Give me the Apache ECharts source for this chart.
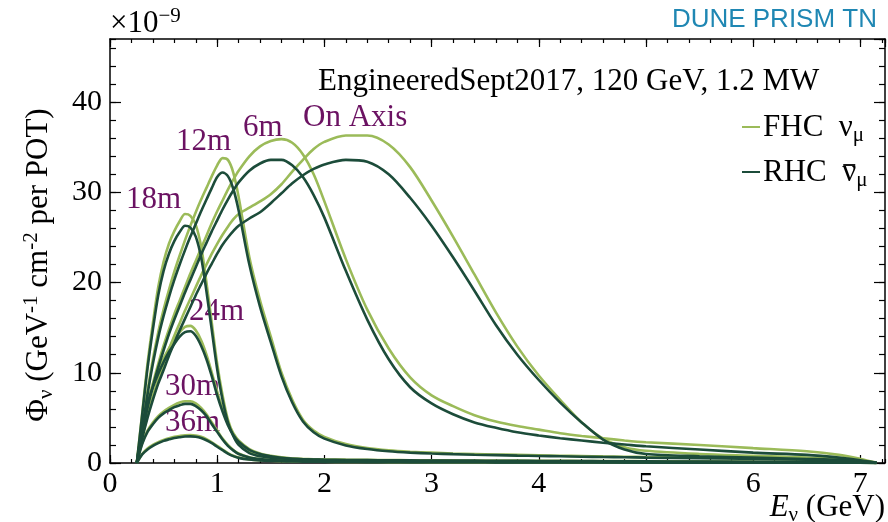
<!DOCTYPE html>
<html><head><meta charset="utf-8">
<script src="https://cdn.jsdelivr.net/npm/echarts@6/dist/echarts.min.js"></script>
<style>html,body{margin:0;padding:0;background:#fff}#c{width:888px;height:522px}</style>
</head><body><div id="c"></div>
<script>
// Energy grid (GeV)
const energies = [0.25,0.3,0.35,0.4,0.45,0.5,0.55,0.6,0.65,0.7,0.75,0.8,0.85,0.9,0.95,1.0,1.05,1.1,1.15,1.2,1.3,1.4,1.5,1.6,1.7,1.8,1.9,2.0,2.2,2.4,2.6,2.8,3.0,3.2,3.4,3.6,3.8,4.0,4.2,4.4,4.6,4.8,5.0,5.5,6.0,6.5,6.8,7.0,7.15];

// Flux (x 1e-9 per GeV per cm2 per POT)
const fhcOnAxis = [0,2.8,5.3,7.4,9.3,11.0,12.6,14.1,15.5,16.9,18.2,19.5,20.8,22.0,23.2,24.3,25.3,26.2,27.0,27.6,28.3,29.0,29.8,30.9,32.3,33.6,34.8,35.6,36.3,36.3,35.3,32.8,29.1,25.1,20.9,16.7,12.9,9.7,7.0,4.5,2.7,1.75,1.35,1.0,0.8,0.6,0.45,0.25,0.03];
const rhcOnAxis = [0,2.7,5.0,7.0,8.8,10.3,11.9,13.3,14.7,16.0,17.3,18.6,19.8,21.0,22.1,23.2,24.2,25.0,25.7,26.3,27.1,27.8,28.8,29.9,31.0,31.9,32.6,33.1,33.6,33.4,32.0,29.4,26.3,22.8,19.1,15.3,12.0,9.2,6.7,4.5,2.6,1.5,1.0,0.75,0.6,0.45,0.35,0.2,0.02];
const fhc6m = [0,3.2,6.3,8.8,11.0,13.0,14.8,16.5,18.0,19.5,21.0,22.4,23.8,25.2,26.6,27.9,29.1,30.3,31.4,32.4,34.0,35.1,35.7,35.9,35.5,34.2,32.0,29.0,22.6,17.0,12.7,9.5,7.5,6.3,5.3,4.6,4.1,3.7,3.3,3.0,2.75,2.5,2.3,2.0,1.65,1.3,0.9,0.45,0.05];
const rhc6m = [0,3.1,6.1,8.5,10.6,12.5,14.3,15.9,17.4,18.9,20.3,21.7,23.1,24.4,25.7,26.9,28.1,29.2,30.2,31.1,32.4,33.2,33.6,33.6,33.0,31.7,29.7,27.2,21.3,15.9,11.5,8.4,6.6,5.4,4.5,3.9,3.4,3.05,2.75,2.5,2.25,2.05,1.85,1.5,1.15,0.9,0.6,0.3,0.03];
const fhc12m = [0,4.0,8.0,11.5,14.5,17.0,19.2,21.2,23.0,24.7,26.3,27.8,29.2,30.5,31.8,33.0,33.8,33.6,32.2,29.5,22.8,18.0,14.0,10.0,7.0,4.8,3.6,2.9,2.1,1.65,1.4,1.25,1.15,1.05,1.0,0.95,0.9,0.85,0.8,0.77,0.73,0.7,0.65,0.58,0.5,0.4,0.3,0.18,0.02];
const rhc12m = [0,3.8,7.6,11.0,13.9,16.3,18.4,20.3,22.0,23.6,25.1,26.5,27.9,29.2,30.5,31.7,32.2,31.8,30.4,28.0,22.0,17.3,13.4,9.6,6.7,4.6,3.4,2.7,1.95,1.55,1.3,1.15,1.05,0.98,0.92,0.87,0.82,0.78,0.74,0.7,0.67,0.64,0.6,0.53,0.45,0.36,0.27,0.16,0.02];
const fhc18m = [0,5.5,11.0,15.5,19.5,22.3,24.3,25.7,26.8,27.6,27.4,26.4,24.0,20.0,15.5,11.0,7.5,4.8,3.2,2.2,1.2,0.8,0.65,0.55,0.5,0.45,0.42,0.4,0.37,0.35,0.33,0.31,0.3,0.29,0.28,0.27,0.26,0.25,0.24,0.23,0.22,0.21,0.2,0.18,0.15,0.12,0.1,0.07,0.01];
const rhc18m = [0,5.3,10.5,14.8,18.6,21.3,23.2,24.6,25.6,26.3,26.1,25.1,22.8,19.0,14.7,10.4,7.0,4.5,3.0,2.0,1.1,0.75,0.6,0.5,0.45,0.41,0.38,0.36,0.34,0.32,0.3,0.29,0.28,0.27,0.26,0.25,0.24,0.23,0.22,0.21,0.2,0.19,0.18,0.16,0.14,0.11,0.09,0.06,0.01];
const fhc24m = [0,4.0,6.8,8.7,10.3,11.6,12.7,13.7,14.5,15.1,15.2,14.7,13.6,12.0,10.0,7.9,6.0,4.4,3.3,2.5,1.55,1.05,0.8,0.62,0.5,0.43,0.38,0.34,0.3,0.27,0.25,0.23,0.22,0.21,0.2,0.19,0.18,0.17,0.16,0.15,0.14,0.13,0.12,0.11,0.09,0.07,0.06,0.04,0.01];
const rhc24m = [0,3.9,6.6,8.4,9.9,11.2,12.3,13.2,14.0,14.5,14.6,14.1,13.0,11.5,9.6,7.5,5.7,4.2,3.1,2.35,1.45,1.0,0.75,0.58,0.47,0.4,0.36,0.32,0.28,0.26,0.24,0.22,0.21,0.2,0.19,0.18,0.17,0.16,0.15,0.14,0.13,0.12,0.11,0.1,0.08,0.07,0.05,0.03,0.01];
const fhc30m = [0,2.2,3.6,4.5,5.2,5.7,6.1,6.45,6.7,6.85,6.85,6.6,6.1,5.4,4.5,3.6,2.7,2.0,1.45,1.05,0.65,0.45,0.35,0.3,0.26,0.23,0.21,0.2,0.18,0.16,0.15,0.14,0.13,0.12,0.12,0.11,0.11,0.1,0.1,0.09,0.09,0.08,0.08,0.07,0.06,0.05,0.04,0.03,0.01];
const rhc30m = [0,2.1,3.45,4.3,5.0,5.5,5.85,6.2,6.4,6.55,6.55,6.3,5.85,5.2,4.3,3.45,2.6,1.9,1.4,1.0,0.62,0.43,0.33,0.28,0.25,0.22,0.2,0.19,0.17,0.15,0.14,0.13,0.12,0.11,0.11,0.1,0.1,0.09,0.09,0.08,0.08,0.07,0.07,0.06,0.05,0.04,0.03,0.02,0.01];
const fhc36m = [0,1.0,1.6,2.0,2.3,2.55,2.75,2.9,3.0,3.08,3.1,3.05,2.9,2.65,2.3,1.9,1.5,1.1,0.8,0.6,0.4,0.3,0.25,0.21,0.18,0.16,0.15,0.14,0.12,0.11,0.1,0.1,0.09,0.09,0.08,0.08,0.07,0.07,0.07,0.06,0.06,0.06,0.05,0.05,0.04,0.03,0.03,0.02,0.01];
const rhc36m = [0,0.95,1.5,1.9,2.2,2.45,2.62,2.77,2.86,2.93,2.95,2.9,2.76,2.52,2.2,1.8,1.42,1.05,0.76,0.57,0.38,0.28,0.23,0.2,0.17,0.15,0.14,0.13,0.11,0.1,0.1,0.09,0.09,0.08,0.08,0.07,0.07,0.06,0.06,0.06,0.05,0.05,0.05,0.04,0.04,0.03,0.02,0.02,0.01];

const positions = ['On Axis','6m','12m','18m','24m','30m','36m'];
const fhcCurves = [fhcOnAxis, fhc6m, fhc12m, fhc18m, fhc24m, fhc30m, fhc36m];
const rhcCurves = [rhcOnAxis, rhc6m, rhc12m, rhc18m, rhc24m, rhc30m, rhc36m];

const xTicksMajor = 1, xTicksMinor = 0.2, xMax = 7.23;
const yTicksMajor = 10, yTicksMinor = 2, yMax = 47;

const FHC_COLOR = '#9bbb59';
const RHC_COLOR = '#1c4c3a';
const LABEL_COLOR = '#6b1262';
const SERIF = '"Liberation Serif", "DejaVu Serif", serif';

const chart = echarts.init(document.getElementById('c'), null, {renderer: 'canvas'});

function mkSeries(name, arr, color, z) {
  return {
    name: name, type: 'line', xAxisIndex: 0, yAxisIndex: 0,
    data: energies.map((e, i) => [e, arr[i]]),
    showSymbol: false, symbol: 'none', smooth: 0.3,
    lineStyle: {color: color, width: 2.6}, itemStyle: {color: color},
    z: z, animation: false, silent: true
  };
}
const series = [];
positions.forEach((p, i) => series.push(mkSeries('FHC ' + p, fhcCurves[i], FHC_COLOR, 2)));
positions.forEach((p, i) => series.push(mkSeries('RHC ' + p, rhcCurves[i], RHC_COLOR, 3)));

function axLine(show) {
  return {show: show, onZero: false, lineStyle: {color: '#000', width: 1.5}};
}
function xAx(pos, interval, tickLen, labels, line) {
  return {
    type: 'value', position: pos, min: 0, max: xMax, interval: interval,
    axisLine: axLine(line),
    axisTick: {show: true, inside: true, length: tickLen, lineStyle: {color: '#000', width: 1.2}},
    axisLabel: labels ? {show: true, margin: 6, fontFamily: SERIF, fontSize: 30, color: '#000', showMaxLabel: false} : {show: false},
    splitLine: {show: false}
  };
}
function yAx(pos, interval, tickLen, labels, line) {
  return {
    type: 'value', position: pos, min: 0, max: yMax, interval: interval,
    axisLine: axLine(line),
    axisTick: {show: true, inside: true, length: tickLen, lineStyle: {color: '#000', width: 1.2}},
    axisLabel: labels ? {show: true, margin: 8, fontFamily: SERIF, fontSize: 30, color: '#000', showMaxLabel: false} : {show: false},
    splitLine: {show: false}
  };
}

const rich = {
  a: {fontFamily: SERIF, fontSize: 31, color: '#000'},
  ai: {fontFamily: SERIF, fontSize: 31, color: '#000', fontStyle: 'italic'},
  sub: {fontFamily: SERIF, fontSize: 21, color: '#000', padding: [14, 0, 0, 0]},
  sup: {fontFamily: SERIF, fontSize: 21, color: '#000', padding: [0, 0, 16, 0]}
};

// measure where the anti-neutrino bar goes in the legend
const mctx = document.createElement('canvas').getContext('2d');
mctx.font = '31px ' + SERIF;
const barStart = 763 + mctx.measureText('RHC  ').width;
const barWidth = mctx.measureText('ν').width;

function purple(text, x, y) {
  return {type: 'text', x: x, y: y, silent: true,
    style: {text: text, fill: LABEL_COLOR, font: '31px ' + SERIF, textVerticalAlign: 'middle', textAlign: 'left'}};
}

const option = {
  animation: false,
  backgroundColor: '#fff',
  grid: {left: 110, top: 39, right: 3, bottom: 59, containLabel: false},
  xAxis: [
    xAx('bottom', xTicksMajor, 8, true, true),
    xAx('bottom', xTicksMinor, 4, false, false),
    xAx('top', xTicksMajor, 8, false, true),
    xAx('top', xTicksMinor, 4, false, false)
  ],
  yAxis: [
    yAx('left', yTicksMajor, 11, true, true),
    yAx('left', yTicksMinor, 6, false, false),
    yAx('right', yTicksMajor, 11, false, true),
    yAx('right', yTicksMinor, 6, false, false)
  ],
  series: series,
  graphic: [
    {type: 'text', x: 110, y: 24, silent: true,
      style: {text: '{a|×10}{sup|−9}', rich: rich, textVerticalAlign: 'middle', textAlign: 'left'}},
    {type: 'text', x: 877, y: 20, silent: true,
      style: {text: 'DUNE PRISM TN', fill: '#1f87b3', font: '26px "Liberation Sans", Arial, sans-serif', textAlign: 'right', textVerticalAlign: 'middle'}},
    {type: 'text', x: 318, y: 82, silent: true,
      style: {text: 'EngineeredSept2017, 120 GeV, 1.2 MW', fill: '#000', font: '31px ' + SERIF, textAlign: 'left', textVerticalAlign: 'middle'}},
    {type: 'line', silent: true, shape: {x1: 742, y1: 127, x2: 760, y2: 127}, style: {stroke: FHC_COLOR, lineWidth: 2}},
    {type: 'line', silent: true, shape: {x1: 742, y1: 172, x2: 760, y2: 172}, style: {stroke: RHC_COLOR, lineWidth: 2}},
    {type: 'text', x: 763, y: 128, silent: true,
      style: {text: '{a|FHC  ν}{sub|μ}', rich: rich, textAlign: 'left', textVerticalAlign: 'middle'}},
    {type: 'text', x: 763, y: 173, silent: true,
      style: {text: '{a|RHC  ν}{sub|μ}', rich: rich, textAlign: 'left', textVerticalAlign: 'middle'}},
    {type: 'line', silent: true, shape: {x1: barStart + 1, y1: 165, x2: barStart + barWidth - 1, y2: 165}, style: {stroke: '#000', lineWidth: 1.8}},
    purple('On Axis', 303, 118),
    purple('6m', 243, 128),
    purple('12m', 176, 142),
    purple('18m', 126, 200),
    purple('24m', 189, 312),
    purple('30m', 165, 387),
    purple('36m', 165, 423),
    {type: 'text', x: 885, y: 508, silent: true,
      style: {text: '{ai|E}{sub|ν}{a| (GeV)}', rich: rich, textAlign: 'right', textVerticalAlign: 'middle'}},
    {type: 'text', x: 39, y: 265, rotation: Math.PI / 2, silent: true,
      style: {text: '{a|Φ}{sub|ν}{a| (GeV}{sup|-1}{a| cm}{sup|-2}{a| per POT)}', rich: rich, textAlign: 'center', textVerticalAlign: 'middle'}}
  ]
};
chart.setOption(option);
</script>
</body></html>
